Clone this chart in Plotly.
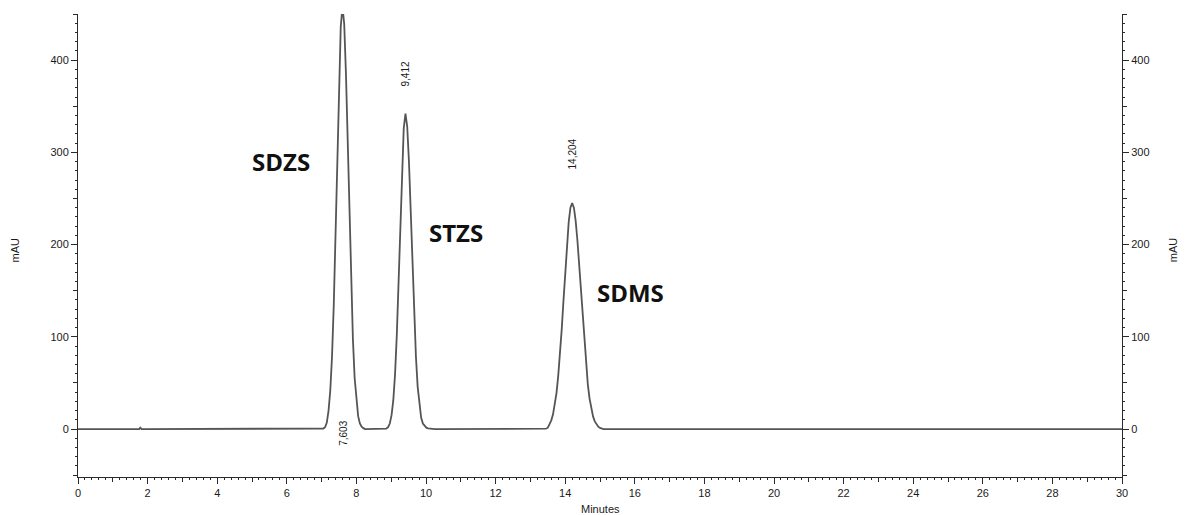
import plotly.graph_objects as go

# ---- data ----
base_start_t = [0.0, 1.76, 1.79, 1.83]
base_start_mau = [0.0, 0.0, 1.5, 0.0]

peak1_t = [7.05, 7.10, 7.15, 7.20, 7.25, 7.30, 7.35, 7.40, 7.45, 7.50, 7.55,
           7.60,
           7.65, 7.70, 7.75, 7.80, 7.85, 7.90, 7.95, 8.00, 8.05, 8.10, 8.15, 8.20, 8.25]
peak1_mau = [0.5, 2, 7, 20, 42, 79, 135, 210, 295, 377, 436,
             458,
             439, 385, 310, 229, 155, 97, 55, 29, 14, 6, 2.5, 1, 0]

peak2_t = [8.86, 8.91, 8.96, 9.01, 9.06, 9.11, 9.16, 9.21, 9.26, 9.31, 9.36,
           9.41,
           9.46, 9.51, 9.56, 9.61, 9.66, 9.71, 9.76, 9.81, 9.86, 9.91, 9.96,
           10.01, 10.06, 10.11, 10.16, 10.21, 10.26]
peak2_mau = [0.5, 2, 6, 15, 31, 59, 101, 157, 220, 281, 326,
             342,
             328, 290, 237, 178, 123, 79, 46, 25, 12.5, 6, 3,
             1.5, 0.8, 0.4, 0.2, 0.1, 0]

peak3_t = [13.45, 13.50, 13.55, 13.60, 13.65, 13.70, 13.75, 13.80, 13.85, 13.90,
           13.95, 14.00, 14.05, 14.10, 14.15,
           14.20,
           14.25, 14.30, 14.35, 14.40, 14.45, 14.50, 14.55, 14.60, 14.65, 14.70,
           14.75, 14.80, 14.85, 14.90, 14.95, 15.00, 15.05, 15.10]
peak3_mau = [0.4, 1.5, 5.3, 9.4, 16, 25.5, 39, 58, 81, 108,
             139, 171, 200, 224, 240,
             245,
             240, 226, 205, 178, 149, 119, 92, 68, 48.5, 33,
             22, 13.7, 8.3, 4.9, 2.5, 1.2, 0.5, 0]

base_end_t = [30.0]
base_end_mau = [0.0]

peak_times = ["7,603", "9,412", "14,204"]
compound_names = ["SDZS", "STZS", "SDMS"]

x_tickvals = list(range(0, 31, 2))
x_midvals = list(range(1, 30, 2))
y_tickvals = [0, 100, 200, 300, 400]
y_midvals = [-50, 50, 150, 250, 350, 450]

t = base_start_t + peak1_t + peak2_t + peak3_t + base_end_t
mau = base_start_mau + peak1_mau + peak2_mau + peak3_mau + base_end_mau

# ---- figure ----
AX = "#2a2a2a"
TICKFONT = dict(family="Liberation Sans, Arial, sans-serif", size=11, color="#1a1a1a")
YR = [-52, 450]

fig = go.Figure()
fig.add_trace(go.Scatter(x=t, y=mau, mode="lines",
                         line=dict(color="#555555", width=1.8),
                         hoverinfo="skip", showlegend=False))
# helper (empty) traces so that the overlay axes are rendered
fig.add_trace(go.Scatter(x=[], y=[], xaxis="x", yaxis="y2", showlegend=False))
fig.add_trace(go.Scatter(x=[], y=[], xaxis="x", yaxis="y3", showlegend=False))
fig.add_trace(go.Scatter(x=[], y=[], xaxis="x", yaxis="y4", showlegend=False))
fig.add_trace(go.Scatter(x=[], y=[], xaxis="x2", yaxis="y", showlegend=False))

common_y = dict(range=YR, showgrid=False, zeroline=False, fixedrange=True)

fig.update_layout(
    width=1189, height=515,
    margin=dict(l=78, r=67, t=14, b=38),
    paper_bgcolor="white", plot_bgcolor="white",
    showlegend=False,
    xaxis=dict(range=[0, 30], tickvals=x_tickvals, ticks="outside", ticklen=6,
               tickcolor=AX, showline=True, linecolor=AX, linewidth=1,
               showgrid=False, zeroline=False, tickfont=TICKFONT,
               minor=dict(dtick=0.2, ticks="outside", ticklen=2, tickcolor=AX),
               anchor="y"),
    xaxis2=dict(range=[0, 30], overlaying="x", side="bottom", anchor="y",
                tickvals=x_midvals, ticks="outside", ticklen=4, tickcolor=AX,
                showticklabels=False, showline=False, showgrid=False, zeroline=False),
    yaxis=dict(**common_y, tickvals=y_tickvals, ticks="outside", ticklen=6,
               tickcolor=AX, showline=True, linecolor=AX, linewidth=1,
               tickfont=TICKFONT, side="left",
               minor=dict(dtick=10, ticks="outside", ticklen=2, tickcolor=AX)),
    yaxis2=dict(**common_y, overlaying="y", side="right", anchor="x",
                tickvals=y_tickvals, ticks="outside", ticklen=6, tickcolor=AX,
                showline=True, linecolor=AX, linewidth=1, tickfont=TICKFONT,
                minor=dict(dtick=10, ticks="outside", ticklen=2, tickcolor=AX)),
    yaxis3=dict(**common_y, overlaying="y", side="left", anchor="x",
                tickvals=y_midvals, ticks="outside", ticklen=4, tickcolor=AX,
                showticklabels=False, showline=False),
    yaxis4=dict(**common_y, overlaying="y", side="right", anchor="x",
                tickvals=y_midvals, ticks="outside", ticklen=4, tickcolor=AX,
                showticklabels=False, showline=False),
)

# axis titles
TITLEFONT = dict(family="Liberation Sans, Arial", size=11, color="#1a1a1a")
fig.add_annotation(text="Minutes", xref="paper", yref="paper", x=0.5, y=-0.069,
                   xanchor="center", yanchor="middle", showarrow=False, font=TITLEFONT)
fig.add_annotation(text="mAU", xref="paper", yref="paper", x=-0.060, y=0.49,
                   xanchor="center", yanchor="middle",
                   textangle=-90, showarrow=False, font=TITLEFONT)
fig.add_annotation(text="mAU", xref="paper", yref="paper", x=1.049, y=0.49,
                   xanchor="center", yanchor="middle",
                   textangle=-90, showarrow=False, font=TITLEFONT)

# retention-time labels
rt_pos = [(7.62, -5), (9.412, 385), (14.204, 298)]
for label, (xx, yy) in zip(peak_times, rt_pos):
    fig.add_annotation(text=label, x=xx, y=yy, xref="x", yref="y", textangle=-90,
                       showarrow=False,
                       font=dict(family="Liberation Sans, Arial", size=10, color="#1a1a1a"))

# compound names
name_pos = [(5.84, 290), (10.87, 213), (15.87, 148)]
for label, (xx, yy) in zip(compound_names, name_pos):
    fig.add_annotation(text=f"<b>{label}</b>", x=xx, y=yy, xref="x", yref="y",
                       showarrow=False,
                       font=dict(family="Open Sans, sans-serif", size=24, color="#111"))

fig.write_html("out.html")
